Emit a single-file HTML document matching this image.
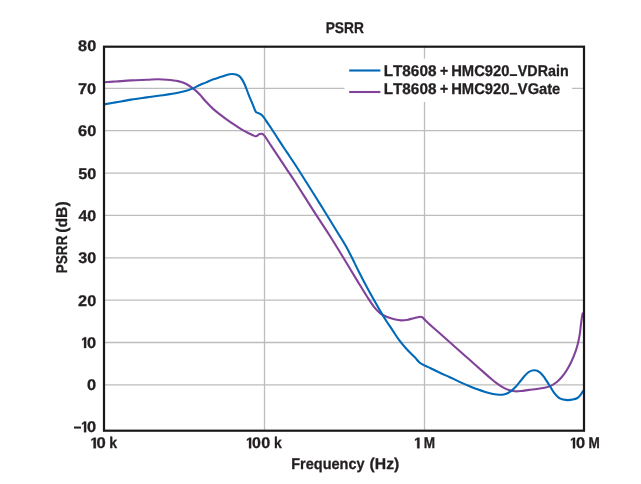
<!DOCTYPE html>
<html><head><meta charset="utf-8"><title>PSRR</title>
<style>
html,body{margin:0;padding:0;background:#fff;}
svg{display:block;will-change:transform;}
path.g{fill:#231f20;stroke:#231f20;stroke-width:0.3px;stroke-linejoin:round;vector-effect:non-scaling-stroke;}
text{font-family:"Liberation Sans",sans-serif;font-weight:bold;font-size:15.5px;fill:#231f20;stroke:#231f20;stroke-width:0.3px;stroke-linejoin:round;text-rendering:geometricPrecision;font-kerning:none;}
</style></head>
<body>
<svg width="641" height="484" viewBox="0 0 641 484">
<rect width="641" height="484" fill="#fff"/>
<g stroke="#bdbdbd" stroke-width="1.3" fill="none">
<line x1="104" y1="88.36" x2="584" y2="88.36"/>
<line x1="104" y1="130.72" x2="584" y2="130.72"/>
<line x1="104" y1="173.08" x2="584" y2="173.08"/>
<line x1="104" y1="215.44" x2="584" y2="215.44"/>
<line x1="104" y1="257.80" x2="584" y2="257.80"/>
<line x1="104" y1="300.16" x2="584" y2="300.16"/>
<line x1="104" y1="342.52" x2="584" y2="342.52"/>
<line x1="104" y1="384.88" x2="584" y2="384.88"/>
<line x1="264.5" y1="47" x2="264.5" y2="430"/>
<line x1="424.5" y1="47" x2="424.5" y2="430"/>
</g>
<rect x="344.5" y="58.6" width="227.5" height="43.4" fill="#fff"/>
<g fill="none" stroke-width="2.1" stroke-linejoin="round" stroke-linecap="butt">
<path stroke="#81429a" d="M104.00 82.20 C105.93 82.08 111.07 81.80 115.60 81.50 C120.13 81.20 126.00 80.68 131.20 80.40 C136.40 80.12 142.38 79.98 146.80 79.80 C151.22 79.62 154.32 79.32 157.70 79.30 C161.08 79.28 163.72 79.40 167.10 79.70 C170.48 80.00 174.88 80.43 178.00 81.10 C181.12 81.77 183.20 82.40 185.80 83.70 C188.40 85.00 191.30 87.13 193.60 88.90 C195.90 90.67 197.60 92.23 199.60 94.30 C201.60 96.37 203.30 98.83 205.60 101.30 C207.90 103.77 210.80 106.75 213.40 109.10 C216.00 111.45 218.60 113.38 221.20 115.40 C223.80 117.42 226.40 119.38 229.00 121.20 C231.60 123.02 234.20 124.63 236.80 126.30 C239.40 127.97 242.00 129.75 244.60 131.20 C247.20 132.65 250.50 134.17 252.40 135.00 C254.30 135.83 254.82 136.35 256.00 136.20 C257.18 136.05 258.40 134.47 259.50 134.10 C260.60 133.73 261.68 133.60 262.60 134.00 C263.52 134.40 263.57 134.52 265.00 136.50 C266.43 138.48 268.87 142.38 271.20 145.90 C273.53 149.42 276.40 153.70 279.00 157.60 C281.60 161.50 284.20 165.40 286.80 169.30 C289.40 173.20 290.17 174.12 294.60 181.00 C299.03 187.88 307.67 201.68 313.40 210.60 C319.13 219.52 324.00 226.63 329.00 234.50 C334.00 242.37 338.40 249.62 343.40 257.80 C348.40 265.98 354.93 276.93 359.00 283.60 C363.07 290.27 365.30 293.93 367.80 297.80 C370.30 301.67 371.92 304.20 374.00 306.80 C376.08 309.40 378.22 311.73 380.30 313.40 C382.38 315.07 384.17 315.82 386.50 316.80 C388.83 317.78 391.83 318.70 394.30 319.30 C396.77 319.90 398.95 320.35 401.30 320.40 C403.65 320.45 406.18 319.98 408.40 319.60 C410.62 319.22 412.62 318.58 414.60 318.10 C416.58 317.62 418.93 316.78 420.30 316.70 C421.67 316.62 421.93 316.95 422.80 317.60 C423.67 318.25 424.27 319.38 425.50 320.60 C426.73 321.82 428.12 323.03 430.20 324.90 C432.28 326.77 434.03 328.28 438.00 331.80 C441.97 335.32 448.73 341.33 454.00 346.00 C459.27 350.67 464.40 355.20 469.60 359.80 C474.80 364.40 481.57 370.40 485.20 373.60 C488.83 376.80 489.57 377.45 491.40 379.00 C493.23 380.55 494.35 381.53 496.20 382.90 C498.05 384.27 500.42 386.00 502.50 387.20 C504.58 388.40 506.62 389.42 508.70 390.10 C510.78 390.78 512.92 391.15 515.00 391.30 C517.08 391.45 518.87 391.23 521.20 391.00 C523.53 390.77 526.40 390.23 529.00 389.90 C531.60 389.57 534.20 389.37 536.80 389.00 C539.40 388.63 542.27 388.22 544.60 387.70 C546.93 387.18 548.72 386.90 550.80 385.90 C552.88 384.90 555.27 383.18 557.10 381.70 C558.93 380.22 560.25 378.83 561.80 377.00 C563.35 375.17 564.85 373.17 566.40 370.70 C567.95 368.23 569.63 365.25 571.10 362.20 C572.57 359.15 574.08 355.43 575.20 352.40 C576.32 349.37 577.05 346.95 577.80 344.00 C578.55 341.05 579.18 337.90 579.70 334.70 C580.22 331.50 580.50 327.90 580.90 324.80 C581.30 321.70 581.75 318.15 582.10 316.10 C582.45 314.05 582.85 313.10 583.00 312.50"/>
<path stroke="#0069b8" d="M104.00 104.40 C105.93 104.07 111.07 103.20 115.60 102.40 C120.13 101.60 126.00 100.43 131.20 99.60 C136.40 98.77 141.60 98.12 146.80 97.40 C152.00 96.68 157.20 96.07 162.40 95.30 C167.60 94.53 173.83 93.62 178.00 92.80 C182.17 91.98 184.80 91.18 187.40 90.40 C190.00 89.62 191.53 89.00 193.60 88.10 C195.67 87.20 197.80 85.92 199.80 85.00 C201.80 84.08 203.33 83.55 205.60 82.60 C207.87 81.65 210.80 80.27 213.40 79.30 C216.00 78.33 218.87 77.57 221.20 76.80 C223.53 76.03 225.58 75.17 227.40 74.70 C229.22 74.23 230.53 73.98 232.10 74.00 C233.67 74.02 235.37 74.22 236.80 74.80 C238.23 75.38 239.40 75.93 240.70 77.50 C242.00 79.07 243.30 81.40 244.60 84.20 C245.90 87.00 247.20 91.05 248.50 94.30 C249.80 97.55 251.23 100.87 252.40 103.70 C253.57 106.53 254.68 109.80 255.50 111.30 C256.32 112.80 256.38 112.18 257.30 112.70 C258.22 113.22 259.85 113.55 261.00 114.40 C262.15 115.25 263.03 116.27 264.20 117.80 C265.37 119.33 266.83 121.87 268.00 123.60 C269.17 125.33 269.37 125.40 271.20 128.20 C273.03 131.00 276.40 136.42 279.00 140.40 C281.60 144.38 284.20 148.20 286.80 152.10 C289.40 156.00 292.00 159.82 294.60 163.80 C297.20 167.78 297.97 168.98 302.40 176.00 C306.83 183.02 315.47 196.70 321.20 205.90 C326.93 215.10 332.72 224.55 336.80 231.20 C340.88 237.85 343.17 241.37 345.70 245.80 C348.23 250.23 349.78 253.43 352.00 257.80 C354.22 262.17 356.53 267.13 359.00 272.00 C361.47 276.87 364.30 282.32 366.80 287.00 C369.30 291.68 371.75 296.08 374.00 300.10 C376.25 304.12 378.22 307.58 380.30 311.10 C382.38 314.62 384.42 317.95 386.50 321.20 C388.58 324.45 390.72 327.48 392.80 330.60 C394.88 333.72 396.67 336.78 399.00 339.90 C401.33 343.02 404.20 346.43 406.80 349.30 C409.40 352.17 412.48 354.90 414.60 357.10 C416.72 359.30 417.87 361.12 419.50 362.50 C421.13 363.88 422.55 364.45 424.40 365.40 C426.25 366.35 428.27 367.10 430.60 368.20 C432.93 369.30 435.80 370.77 438.40 372.00 C441.00 373.23 443.60 374.42 446.20 375.60 C448.80 376.78 451.40 377.88 454.00 379.10 C456.60 380.32 459.20 381.72 461.80 382.90 C464.40 384.08 467.00 385.13 469.60 386.20 C472.20 387.27 474.80 388.35 477.40 389.30 C480.00 390.25 482.60 391.12 485.20 391.90 C487.80 392.68 490.62 393.52 493.00 394.00 C495.38 394.48 497.40 394.82 499.50 394.80 C501.60 394.78 503.80 394.42 505.60 393.90 C507.40 393.38 508.73 392.75 510.30 391.70 C511.87 390.65 513.45 389.20 515.00 387.60 C516.55 386.00 518.05 384.00 519.60 382.10 C521.15 380.20 522.73 377.92 524.30 376.20 C525.87 374.48 527.30 372.78 529.00 371.80 C530.70 370.82 532.68 370.22 534.50 370.30 C536.32 370.38 538.22 371.05 539.90 372.30 C541.58 373.55 543.03 375.65 544.60 377.80 C546.17 379.95 547.73 382.73 549.30 385.20 C550.87 387.67 552.45 390.52 554.00 392.60 C555.55 394.68 557.05 396.53 558.60 397.70 C560.15 398.87 561.73 399.20 563.30 399.60 C564.87 400.00 566.43 400.10 568.00 400.10 C569.57 400.10 571.13 399.95 572.70 399.60 C574.27 399.25 576.10 398.78 577.40 398.00 C578.70 397.22 579.48 396.15 580.50 394.90 C581.52 393.65 583.00 391.23 583.50 390.50"/>
</g>
<rect x="104" y="46.7" width="480" height="384.0" fill="none" stroke="#1a1718" stroke-width="2.2"/>
<line x1="349.2" y1="70.5" x2="380.4" y2="70.5" stroke="#0069b8" stroke-width="2.1"/>
<line x1="349.2" y1="92" x2="380.4" y2="92" stroke="#81429a" stroke-width="2.1"/>
<text x="383.63" y="75.90" textLength="52.80" lengthAdjust="spacingAndGlyphs">LT8608</text>
<text x="440.06" y="75.90" textLength="8.15" lengthAdjust="spacingAndGlyphs">+</text>
<text x="451.16" y="75.90" textLength="58.29" lengthAdjust="spacingAndGlyphs">HMC920</text>
<text x="517.85" y="75.90" textLength="50.78" lengthAdjust="spacingAndGlyphs">VDRain</text>
<text x="383.63" y="94.00" textLength="52.80" lengthAdjust="spacingAndGlyphs">LT8608</text>
<text x="440.06" y="94.00" textLength="8.15" lengthAdjust="spacingAndGlyphs">+</text>
<text x="451.16" y="94.00" textLength="58.29" lengthAdjust="spacingAndGlyphs">HMC920</text>
<text x="517.85" y="94.00" textLength="42.40" lengthAdjust="spacingAndGlyphs">VGate</text>
<rect x="509.8" y="74.2" width="7.3" height="1.8" fill="#231f20"/>
<rect x="509.8" y="92.8" width="7.3" height="1.8" fill="#231f20"/>
<text x="325.63" y="32.50" textLength="38.20" lengthAdjust="spacingAndGlyphs">PSRR</text>
<text x="78.13" y="51.45" textLength="18.08" lengthAdjust="spacingAndGlyphs">80</text>
<text x="77.94" y="93.81" textLength="18.28" lengthAdjust="spacingAndGlyphs">70</text>
<text x="78.05" y="136.17" textLength="18.17" lengthAdjust="spacingAndGlyphs">60</text>
<text x="78.15" y="178.53" textLength="18.07" lengthAdjust="spacingAndGlyphs">50</text>
<text x="78.41" y="220.89" textLength="17.80" lengthAdjust="spacingAndGlyphs">40</text>
<text x="78.28" y="263.25" textLength="17.93" lengthAdjust="spacingAndGlyphs">30</text>
<text x="78.08" y="305.61" textLength="18.13" lengthAdjust="spacingAndGlyphs">20</text>
<path class="g" d="M445 0V1150L140 985V1195L493 1409H759V0Z" transform="translate(81.12,347.97) scale(0.00662,-0.00757)"/>
<text x="87.10" y="347.97" textLength="9.12" lengthAdjust="spacingAndGlyphs">0</text>
<text x="87.10" y="390.33" textLength="9.12" lengthAdjust="spacingAndGlyphs">0</text>
<path class="g" d="M445 0V1150L140 985V1195L493 1409H759V0Z" transform="translate(81.12,432.24) scale(0.00662,-0.00757)"/>
<text x="87.10" y="432.24" textLength="9.12" lengthAdjust="spacingAndGlyphs">0</text>
<rect x="74.0" y="426.54" width="7.0" height="2.0" fill="#231f20"/>
<path class="g" d="M445 0V1150L140 985V1195L493 1409H759V0Z" transform="translate(90.33,448.30) scale(0.00727,-0.00757)"/>
<text x="96.49" y="448.30" textLength="9.24" lengthAdjust="spacingAndGlyphs">0</text>
<text x="109.16" y="448.30" textLength="7.87" lengthAdjust="spacingAndGlyphs">k</text>
<path class="g" d="M445 0V1150L140 985V1195L493 1409H759V0Z" transform="translate(246.00,448.30) scale(0.00679,-0.00757)"/>
<text x="252.02" y="448.30" textLength="8.89" lengthAdjust="spacingAndGlyphs">0</text>
<text x="261.21" y="448.30" textLength="9.00" lengthAdjust="spacingAndGlyphs">0</text>
<text x="273.98" y="448.30" textLength="7.76" lengthAdjust="spacingAndGlyphs">k</text>
<path class="g" d="M445 0V1150L140 985V1195L493 1409H759V0Z" transform="translate(414.05,448.30) scale(0.00711,-0.00757)"/>
<text x="423.64" y="448.30" textLength="11.32" lengthAdjust="spacingAndGlyphs">M</text>
<path class="g" d="M445 0V1150L140 985V1195L493 1409H759V0Z" transform="translate(570.02,448.30) scale(0.00662,-0.00757)"/>
<text x="576.00" y="448.30" textLength="9.12" lengthAdjust="spacingAndGlyphs">0</text>
<text x="588.54" y="448.30" textLength="11.32" lengthAdjust="spacingAndGlyphs">M</text>
<text x="291.28" y="469.30" textLength="73.25" lengthAdjust="spacingAndGlyphs">Frequency</text>
<text x="369.56" y="469.30" textLength="29.77" lengthAdjust="spacingAndGlyphs">(Hz)</text>
<text transform="translate(66.60,272.50) rotate(-90)" x="-0.76" y="0" textLength="37.69" lengthAdjust="spacingAndGlyphs">PSRR</text>
<text transform="translate(66.60,232.20) rotate(-90)" x="-0.63" y="0" textLength="31.47" lengthAdjust="spacingAndGlyphs">(dB)</text>
</svg>
</body></html>
